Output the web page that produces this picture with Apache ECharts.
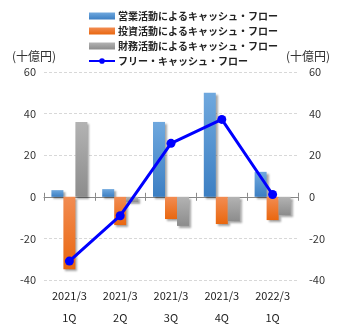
<!DOCTYPE html>
<html>
<head>
<meta charset="utf-8">
<script src="https://cdn.jsdelivr.net/npm/echarts@6/dist/echarts.min.js"></script>
<style>
  html, body { margin: 0; padding: 0; background: #fff; }
  #chart { width: 345px; height: 330px; }
</style>
</head>
<body>
<div id="chart"></div>
<script>
// Quarterly cash flows (billions of yen)
const categories = ['2021/3\n1Q', '2021/3\n2Q', '2021/3\n3Q', '2021/3\n4Q', '2022/3\n1Q'];
const operatingCF = [3.2, 3.7, 36, 50, 12];
const investingCF = [-34.8, -13.6, -10.7, -13.1, -11.2];
const financingCF = [36, -2.5, -14, -11.7, -8.8];
const freeCF = [-30.9, -9.1, 25.7, 37.2, 1.1];

const seriesNames = [
  '営業活動によるキャッシュ・フロー',
  '投資活動によるキャッシュ・フロー',
  '財務活動によるキャッシュ・フロー',
  'フリー・キャッシュ・フロー'
];

const FONT = '"Noto Sans CJK JP", "DejaVu Sans", sans-serif';

function grad(top, bottom) {
  return new echarts.graphic.LinearGradient(0, 0, 0, 1, [
    { offset: 0, color: top },
    { offset: 1, color: bottom }
  ]);
}

const barShadow = {
  shadowColor: 'rgba(0,0,0,0.35)',
  shadowBlur: 2,
  shadowOffsetX: 2,
  shadowOffsetY: 2
};

const chart = echarts.init(document.getElementById('chart'), null, { renderer: 'canvas' });

const yAxisCommon = {
  type: 'value',
  min: -40,
  max: 60,
  interval: 20,
  nameLocation: 'end',
  nameGap: 10,
  axisLine: { show: false },
  axisTick: { show: false },
  axisLabel: { color: '#333', fontSize: 11, fontFamily: FONT }
};

chart.setOption({
  animation: false,
  legend: {
    orient: 'vertical',
    left: 83,
    top: 6,
    itemWidth: 26,
    itemHeight: 7,
    itemGap: 5,
    textStyle: { color: '#222', fontSize: 10, fontWeight: 'bold', fontFamily: FONT, padding: [0, 0, 0, -2] },
    data: [
      { name: seriesNames[0], icon: 'rect' },
      { name: seriesNames[1], icon: 'rect' },
      { name: seriesNames[2], icon: 'rect' },
      { name: seriesNames[3] }
    ]
  },
  grid: { left: 44, right: 47, top: 72, bottom: 50 },
  xAxis: [
    {
      type: 'category',
      data: categories,
      position: 'bottom',
      axisLine: { show: false, onZero: false },
      axisTick: { show: false },
      axisLabel: { color: '#222', fontSize: 11, fontFamily: FONT, lineHeight: 22, margin: 5 }
    },
    {
      type: 'category',
      data: categories,
      position: 'bottom',
      axisLine: { show: true, onZero: true, onZeroAxisIndex: 0, lineStyle: { color: '#888', width: 1 } },
      axisTick: { show: true, length: 4, lineStyle: { color: '#888' } },
      axisLabel: { show: false }
    },
    {
      type: 'category',
      data: categories,
      position: 'top',
      axisLine: { show: false, onZero: true, onZeroAxisIndex: 0 },
      axisTick: { show: true, length: 4, lineStyle: { color: '#888' } },
      axisLabel: { show: false }
    }
  ],
  yAxis: [
    Object.assign({}, yAxisCommon, {
      name: '(十億円)',
      position: 'left',
      nameTextStyle: { color: '#333', fontSize: 12, fontFamily: FONT, align: 'center', padding: [0, 0, 0, -20] },
      splitLine: { show: true, lineStyle: { color: '#d8d8d8', type: [3, 2] } }
    }),
    Object.assign({}, yAxisCommon, {
      name: '(十億円)',
      position: 'right',
      nameTextStyle: { color: '#333', fontSize: 12, fontFamily: FONT, align: 'center', padding: [0, 0, 0, 20] },
      axisLabel: { color: '#333', fontSize: 11, fontFamily: FONT, margin: 11 },
      splitLine: { show: false }
    })
  ],
  series: [
    {
      name: seriesNames[0],
      type: 'bar',
      xAxisIndex: 0,
      yAxisIndex: 0,
      data: operatingCF,
      barWidth: 12,
      barGap: '0%',
      itemStyle: Object.assign({ color: grad('#6fa8de', '#3c7fc3') }, barShadow)
    },
    {
      name: seriesNames[1],
      type: 'bar',
      xAxisIndex: 0,
      yAxisIndex: 0,
      data: investingCF,
      barWidth: 12,
      barGap: '0%',
      itemStyle: Object.assign({ color: grad('#f28c52', '#e9670f') }, barShadow)
    },
    {
      name: seriesNames[2],
      type: 'bar',
      xAxisIndex: 0,
      yAxisIndex: 0,
      data: financingCF,
      barWidth: 12,
      barGap: '0%',
      itemStyle: Object.assign({ color: grad('#b3b3b3', '#8c8c8c') }, barShadow)
    },
    {
      name: seriesNames[3],
      type: 'line',
      xAxisIndex: 0,
      yAxisIndex: 1,
      data: freeCF,
      symbol: 'circle',
      symbolSize: 9,
      lineStyle: { color: '#0000ff', width: 3 },
      itemStyle: { color: '#0000ff' },
      z: 5
    }
  ]
});
</script>
</body>
</html>
